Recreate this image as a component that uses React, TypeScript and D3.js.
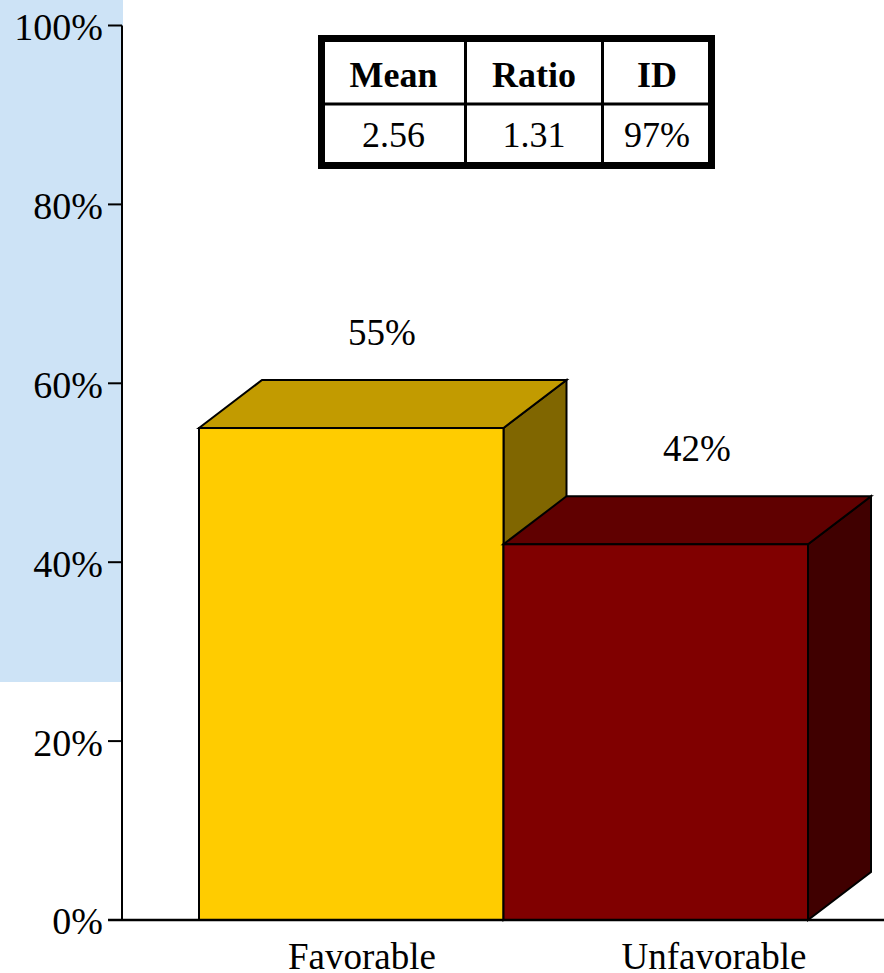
import * as d3 from "d3";
import React from "react";

// chart data
const categories = ["Favorable", "Unfavorable"];
const values = [0.55, 0.42];
const yTicks = [0, 0.2, 0.4, 0.6, 0.8, 1];
const tableHeaders = ["Mean", "Ratio", "ID"];
const tableValues = ["2.56", "1.31", "97%"];

const W = 884;
const H = 973;
const font = "'Liberation Serif', 'Times New Roman', serif";
const fronts = ["#ffcc00", "#800000"];
const tops = ["#c29b00", "#600000"];
const sides = ["#806600", "#400000"];

const base = 920;
const depthX = 63;
const depthY = 48;

export default function App() {
  const y = d3.scaleLinear().domain([0, 1]).range([base, 25.5]);
  const x = d3.scaleBand().domain(categories).range([199, 808]).padding(0);
  // labels are not centred on the bars in the original, so they get their own bands
  const xLabel = d3.scaleBand().domain(categories).range([186, 890]);
  const xValue = d3.scaleBand().domain(categories).range([224.5, 854.5]);
  const fmt = d3.format(".0%");

  // table columns
  const colEdges = [321.5, 465.5, 602.5, 711.5];

  return (
    <svg
      width={W}
      height={H}
      style={{ position: "absolute", left: 0, top: 0 }}
      fontFamily={font}
    >
      <rect x={0} y={0} width={W} height={H} fill="#fff" />
      <rect x={0} y={0} width={123} height={682} fill="#cde3f6" />

      {/* y axis */}
      <line x1={122} x2={122} y1={y(1)} y2={base} stroke="#000" strokeWidth={2} />
      {yTicks.map((t) => (
        <g key={t}>
          <line x1={108} x2={122} y1={y(t)} y2={y(t)} stroke="#000" strokeWidth={2} />
          <text x={103} y={y(t)} dy="0.38em" textAnchor="end" fontSize={38}>
            {fmt(t)}
          </text>
        </g>
      ))}

      {/* bars */}
      {categories.map((c, i) => {
        const x0 = x(c) as number;
        const w = x.bandwidth();
        const y0 = y(values[i]);
        const top = [
          [x0, y0],
          [x0 + depthX, y0 - depthY],
          [x0 + w + depthX, y0 - depthY],
          [x0 + w, y0],
        ];
        const side = [
          [x0 + w, y0],
          [x0 + w + depthX, y0 - depthY],
          [x0 + w + depthX, base - depthY],
          [x0 + w, base],
        ];
        return (
          <g key={c} stroke="#000" strokeWidth={2} strokeLinejoin="miter">
            <polygon points={side.join(" ")} fill={sides[i]} />
            <polygon points={top.join(" ")} fill={tops[i]} />
            <rect x={x0} y={y0} width={w} height={base - y0} fill={fronts[i]} />
            <text
              x={(xValue(c) as number) + xValue.bandwidth() / 2}
              y={y0 - depthY - 35}
              textAnchor="middle"
              fontSize={37}
              stroke="none"
              fill="#000"
            >
              {fmt(values[i])}
            </text>
          </g>
        );
      })}

      {/* baseline */}
      <line x1={108} x2={W} y1={base} y2={base} stroke="#000" strokeWidth={2.5} />

      {categories.map((c) => (
        <text
          key={c}
          x={(xLabel(c) as number) + xLabel.bandwidth() / 2}
          y={969}
          textAnchor="middle"
          fontSize={37}
        >
          {c}
        </text>
      ))}

      {/* stats table */}
      <rect x={321.5} y={38.5} width={390} height={127} fill="#fff" />
      {tableHeaders.map((h, i) => {
        const cx = (colEdges[i] + colEdges[i + 1]) / 2;
        return (
          <g key={h}>
            <text x={cx} y={87} textAnchor="middle" fontSize={36} fontWeight="bold">
              {h}
            </text>
            <text x={cx} y={147} textAnchor="middle" fontSize={36}>
              {tableValues[i]}
            </text>
          </g>
        );
      })}
      <line x1={321.5} x2={711.5} y1={104} y2={104} stroke="#000" strokeWidth={3} />
      {colEdges.slice(1, 3).map((e) => (
        <line key={e} x1={e} x2={e} y1={38.5} y2={165.5} stroke="#000" strokeWidth={3} />
      ))}
      <rect x={321.5} y={38.5} width={390} height={127} fill="none" stroke="#000" strokeWidth={7} />
    </svg>
  );
}
